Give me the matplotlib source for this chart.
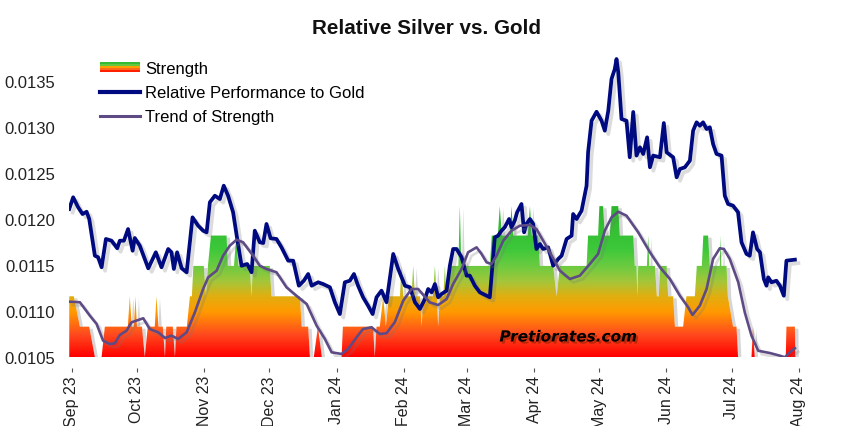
import numpy as np
import pandas as pd
import matplotlib
matplotlib.use("Agg")
import matplotlib.pyplot as plt
import matplotlib.dates as mdates
from matplotlib import patheffects as pe
from matplotlib.colors import LinearSegmentedColormap
from matplotlib.patches import Rectangle
from matplotlib.lines import Line2D
from matplotlib.legend_handler import HandlerBase

plt.rcParams['font.family'] = ['Liberation Sans', 'DejaVu Sans']

# ---------------- data ----------------
START = pd.Timestamp('2023-09-01')   # day offsets below are relative to this date

perf_days = [-1.2, 0.6, 2.9, 4.9, 6.8, 8.0, 10.6, 12.1, 13.7, 15.7, 18.3, 20.9, 22.1, 24.0, 25.9, 28.0, 29.0, 31.3,
             35.2, 38.7, 41.3, 44.4, 45.9, 47.0, 48.5, 50.6, 52.9, 55.6, 58.2, 60.5, 62.1, 63.6, 65.9, 68.2, 70.0,
             72.0, 74.3, 76.2, 78.2, 80.8, 82.8, 84.3, 86.6, 88.2, 89.7, 91.6, 94.3, 96.6, 99.7, 102.0, 104.6, 106.9,
             108.9, 110.5, 113.5, 115.8, 118.9, 121.2, 123.5, 125.8, 128.1, 130.0, 131.9, 134.2, 136.5, 138.6, 140.4,
             142.7, 145.0, 148.1, 150.4, 153.5, 155.8, 158.1, 160.4, 162.7, 164.2, 165.8, 167.3, 168.8, 170.4, 172.7,
             174.2, 175.7, 177.3, 179.6, 181.9, 183.4, 185.7, 188.0, 192.6, 194.9, 196.4, 198.0, 199.5, 201.5, 202.6,
             204.1, 205.2, 207.2, 208.4, 209.5, 211.1, 212.6, 214.1, 215.7, 217.2, 219.5, 221.8, 224.1, 225.7, 228.0,
             230.3, 231.0, 232.6, 234.9, 237.2, 237.9, 239.5, 241.8, 244.1, 245.6, 247.2, 248.7, 250.2, 251.0, 251.8,
             253.3, 255.6, 257.1, 258.7, 260.2, 261.8, 263.3, 265.1, 266.4, 267.9, 271.0, 272.8, 274.1, 277.1, 278.7,
             280.2, 282.5, 284.8, 286.3, 287.9, 289.4, 290.9, 292.5, 294.0, 295.5, 297.1, 299.4, 300.9, 302.4, 304.7,
             307.0, 308.6, 310.9, 312.4, 313.9, 315.8, 317.1, 318.9, 320.1, 320.9, 322.4, 324.7, 326.3, 328.1, 329.3,
             333.2]
perf_vals = [0.012109, 0.012236, 0.012127, 0.012054, 0.012079, 0.012000, 0.011601, 0.011584, 0.011475, 0.011783,
             0.011764, 0.011682, 0.011764, 0.011764, 0.011891, 0.011655, 0.011793, 0.011710, 0.011464, 0.011638,
             0.011475, 0.011674, 0.011638, 0.011457, 0.011638, 0.011464, 0.011421, 0.012018, 0.011927, 0.011873,
             0.011855, 0.012182, 0.012253, 0.012217, 0.012362, 0.012253, 0.012073, 0.011783, 0.011492, 0.011511,
             0.011421, 0.011873, 0.011747, 0.011739, 0.011946, 0.011790, 0.011783, 0.011692, 0.011547, 0.011547,
             0.011275, 0.011329, 0.011402, 0.011275, 0.011312, 0.011293, 0.011258, 0.011095, 0.010967, 0.011312,
             0.011329, 0.011402, 0.011275, 0.011149, 0.011058, 0.010967, 0.011149, 0.011221, 0.011095, 0.011620,
             0.011457, 0.011275, 0.011258, 0.011095, 0.011022, 0.011130, 0.011239, 0.011203, 0.011293, 0.011149,
             0.011185, 0.011221, 0.011492, 0.011674, 0.011674, 0.011584, 0.011384, 0.011384, 0.011275, 0.011203,
             0.011149, 0.011801, 0.011818, 0.011873, 0.011910, 0.012000, 0.011910, 0.011982, 0.012073, 0.012163,
             0.011855, 0.011946, 0.012000, 0.011946, 0.011674, 0.011728, 0.011674, 0.011692, 0.011492, 0.011565,
             0.011601, 0.011783, 0.011818, 0.012054, 0.012000, 0.012090, 0.012362, 0.012725, 0.013068, 0.013166,
             0.013068, 0.012960, 0.013177, 0.013522, 0.013630, 0.013739, 0.013595, 0.013087, 0.013068, 0.012671,
             0.013163, 0.012689, 0.012779, 0.012707, 0.012888, 0.012562, 0.012689, 0.012671, 0.013043, 0.012725,
             0.012671, 0.012453, 0.012543, 0.012562, 0.012634, 0.012960, 0.013051, 0.013014, 0.013051, 0.012978,
             0.012997, 0.012815, 0.012707, 0.012689, 0.012253, 0.012163, 0.012145, 0.012073, 0.011747, 0.011620,
             0.011601, 0.011855, 0.011674, 0.011638, 0.011348, 0.011275, 0.011366, 0.011312, 0.011329, 0.011275,
             0.011166, 0.011547, 0.011558]

trend_days = [-1.2, 3.7, 8.3, 11.4, 14.4, 17.5, 19.8, 22.1, 25.2, 27.5, 32.9, 35.9, 39.8, 42.9, 45.9, 49.0, 52.9,
              56.7, 60.5, 62.8, 66.7, 69.7, 72.8, 75.9, 78.9, 83.5, 86.6, 89.7, 94.3, 98.9, 103.5, 108.2, 112.8,
              116.6, 119.7, 124.3, 127.3, 131.2, 134.2, 138.1, 141.9, 145.0, 148.8, 152.7, 156.5, 159.6, 164.9,
              168.8, 172.7, 175.7, 179.6, 182.6, 186.5, 188.8, 191.1, 193.4, 195.7, 198.8, 202.6, 206.5, 211.1,
              214.1, 217.2, 221.1, 224.9, 229.5, 234.1, 238.7, 242.5, 245.6, 248.7, 251.8, 255.6, 261.0, 266.4,
              271.0, 275.6, 280.2, 284.0, 286.0, 289.4, 292.5, 295.5, 298.6, 300.5, 303.2, 307.1, 310.1, 313.2,
              316.3, 321.7, 326.3, 328.6, 330.9, 333.2]
trend_vals = [0.011101, 0.011095, 0.010949, 0.010859, 0.010677, 0.010641, 0.010649, 0.010739, 0.010786, 0.010877,
              0.010921, 0.010804, 0.010768, 0.010707, 0.010732, 0.010696, 0.010768, 0.010986, 0.011239, 0.011366,
              0.011438, 0.011601, 0.011710, 0.011775, 0.011747, 0.011601, 0.011492, 0.011457, 0.011421, 0.011258,
              0.011166, 0.011076, 0.010840, 0.010696, 0.010551, 0.010533, 0.010587, 0.010714, 0.010804, 0.010823,
              0.010750, 0.010758, 0.010877, 0.011112, 0.011239, 0.011239, 0.011094, 0.011065, 0.011130, 0.011293,
              0.011457, 0.011638, 0.011692, 0.011620, 0.011529, 0.011511, 0.011601, 0.011764, 0.011873, 0.011927,
              0.011935, 0.011891, 0.011764, 0.011601, 0.011438, 0.011348, 0.011384, 0.011511, 0.011620, 0.011873,
              0.012018, 0.012079, 0.012036, 0.011855, 0.011638, 0.011475, 0.011348, 0.011166, 0.011040, 0.010957,
              0.011058, 0.011239, 0.011565, 0.011682, 0.011674, 0.011565, 0.011312, 0.010986, 0.010732, 0.010568,
              0.010543, 0.010514, 0.010497, 0.010551, 0.010595]

strength_days = [-1.2, 0.9, 3.7, 8.0, 10.6, 13.7, 15.2, 25.8, 26.7, 27.6, 28.6, 29.3, 30.0, 32.3, 33.6, 35.0, 38.2,
                 39.0, 39.9, 41.9, 42.9, 43.5, 46.5, 47.5, 48.2, 53.0, 54.4, 55.3, 56.0, 60.8, 61.8, 62.7, 64.1,
                 71.3, 71.9, 74.7, 75.8, 76.7, 82.0, 82.8, 83.4, 91.2, 92.0, 105.1, 105.9, 108.9, 109.7, 111.5,
                 113.4, 115.2, 124.3, 124.9, 138.8, 139.6, 140.4, 141.9, 143.5, 144.7, 146.1, 151.2, 151.9, 152.7,
                 156.5, 157.3, 158.1, 160.4, 161.2, 161.9, 166.4, 167.3, 168.2, 168.8, 169.6, 171.2, 171.9, 172.6,
                 173.5, 178.1, 178.8, 179.5, 192.6, 193.5, 196.3, 197.2, 198.2, 201.8, 202.6, 203.4, 210.1, 211.1,
                 212.0, 214.9, 215.7, 221.8, 223.4, 224.9, 237.2, 237.9, 242.5, 243.1, 244.8, 245.6, 247.9, 248.7,
                 251.8, 252.5, 258.7, 259.4, 260.2, 260.6, 261.0, 265.0, 265.6, 266.1, 268.7, 269.6, 270.5, 271.0,
                 274.1, 274.8, 277.1, 277.9, 281.7, 283.2, 287.1, 288.0, 290.3, 291.0, 293.2, 294.0, 298.6, 298.9,
                 299.3, 301.7, 302.3, 304.7, 306.3, 307.0, 313.2, 313.9, 314.7, 329.0, 329.3, 333.2, 333.4]
strength_levels = [2, 2, 1, 1, 0, 0, 1, 1, 2, 1, 1, 2, 1, 1, 0, 1, 1,
                   2, 1, 1, 0, 1, 1, 0, 1, 1, 2, 2, 3, 3, 2, 3, 4,
                   4, 3, 3, 4, 3, 3, 2, 3, 3, 2, 2, 1, 1, 0, 0,
                   1, 0, 0, 1, 1, 0, 1, 1, 2, 1, 2, 2, 3, 2,
                   2, 3, 2, 2, 1, 2, 2, 3, 2, 1, 2, 2, 3, 2,
                   3, 3, 5, 3, 3, 4, 4, 5, 4, 4, 5, 4, 4, 5,
                   4, 4, 3, 3, 2, 3, 3, 4, 4, 5, 5, 4, 4, 5,
                   5, 4, 4, 3, 3, 2, 3, 3, 4, 3, 3, 2, 2, 3,
                   3, 2, 2, 1, 1, 2, 2, 3, 3, 4, 4, 3, 3, 4,
                   3, 3, 2, 1, 1, 0, 0, 1, 0, 0, 1, 1, 0]
strength_scale = [0.01050, 0.01083, 0.01116, 0.01149, 0.01182, 0.01214]

y_ticks = [0.0105, 0.0110, 0.0115, 0.0120, 0.0125, 0.0130, 0.0135]
title = "Relative Silver vs. Gold"
legend_labels = ["Strength", "Relative Performance to Gold", "Trend of Strength"]
watermark = "Pretiorates.com"

# ---------------- figure ----------------
def to_dates(days):
    return START + pd.to_timedelta(np.asarray(days, dtype=float), unit='D')

perf_x = to_dates(perf_days)
trend_x = to_dates(trend_days)
str_x = to_dates(strength_days)
str_y = np.array([strength_scale[k] for k in strength_levels])
base = strength_scale[0]

fig = plt.figure(figsize=(8.54, 4.27), dpi=100)
ax = fig.add_axes([0.0811, 0.1616, 0.8568, 0.711])

xmin = START + pd.Timedelta(days=-1.2)
xmax = START + pd.Timedelta(days=336)

# strength area: white polygon with shadow, then gradient image clipped to it
poly = ax.fill_between(str_x, base, str_y, facecolor='white', edgecolor='none', zorder=1,
                       path_effects=[pe.SimplePatchShadow(offset=(2.5, -1.5), shadow_rgbFace='#9a9a9a', alpha=0.4),
                                     pe.Normal()])
cmap = LinearSegmentedColormap.from_list('strength', [
    (0.00, '#ff0000'), (0.15, '#ff4a1e'), (0.30, '#ff9a00'), (0.40, '#e2ae10'),
    (0.50, '#a4c63a'), (0.60, '#6ccb40'), (0.72, '#3cc83a'), (1.00, '#2db52d')])
grad = np.linspace(0, 1, 256).reshape(-1, 1)
x0n, x1n = mdates.date2num(xmin), mdates.date2num(xmax)
im = ax.imshow(grad, cmap=cmap, aspect='auto', origin='lower',
               extent=[x0n, x1n, base, strength_scale[-1]], zorder=1.2, interpolation='bilinear')
im.set_clip_path(poly.get_paths()[0], transform=ax.transData)

shadow = [pe.SimpleLineShadow(offset=(2.5, -2.5), shadow_color='#777777', alpha=0.25), pe.Normal()]
ax.plot(perf_x, perf_vals, color='#000a80', lw=2.7, zorder=4, solid_joinstyle='round',
        path_effects=shadow)
ax.plot(trend_x, trend_vals, color='#5e4b86', lw=1.9, zorder=5, solid_joinstyle='round',
        path_effects=shadow)

ax.text(0.6816, 0.066, watermark, transform=ax.transAxes, ha='center', va='center',
        fontsize=11, fontweight='bold', fontstyle='italic', family='DejaVu Sans', color='black', zorder=3,
        path_effects=[pe.withSimplePatchShadow(offset=(1.5, -1.5), shadow_rgbFace='#7a2000', alpha=0.5)])

ax.set_xlim(xmin, xmax)
ax.set_ylim(0.0105, 0.0138)
ax.set_yticks(y_ticks)
ax.set_yticklabels([f"{v:.4f}" for v in y_ticks])
ax.xaxis.set_major_locator(mdates.MonthLocator())
ax.xaxis.set_major_formatter(mdates.DateFormatter('%b %y'))
for s in ['top', 'right', 'left']:
    ax.spines[s].set_visible(False)
ax.spines['bottom'].set_position(('outward', 8))
ax.spines['bottom'].set_visible(False)
ax.tick_params(axis='y', length=0, pad=10, labelsize=12, labelcolor='#222222')
ax.tick_params(axis='x', length=3, width=0.8, color='#555555', pad=2, labelsize=11.5,
               labelcolor='#222222', labelrotation=90)
for lab in ax.get_xticklabels():
    lab.set_va('top')

# legend
class GradHandler(HandlerBase):
    def create_artists(self, legend, orig_handle, xdescent, ydescent, width, height, fontsize, trans):
        cols = ['#33bb33', '#66c640', '#ffa000', '#ff6a1a', '#ff2000']
        n = len(cols)
        h = height * 0.85
        y0 = -ydescent + (height - h) / 2
        arts = []
        for i, c in enumerate(cols):
            arts.append(Rectangle((-xdescent, y0 + h * (n - 1 - i) / n), width, h / n + 0.3,
                                  facecolor=c, edgecolor='none', transform=trans))
        return arts

grad_handle = Rectangle((0, 0), 1, 1)
h_perf = Line2D([], [], color='#000a80', lw=3.0)
h_trend = Line2D([], [], color='#5e4b86', lw=2.2)
fig.legend([grad_handle, h_perf, h_trend], legend_labels,
           handler_map={Rectangle: GradHandler()},
           loc='upper left', bbox_to_anchor=(0.117, 0.854), frameon=False, fontsize=12,
           handlelength=2.4, handletextpad=0.3, labelspacing=0.54, borderpad=0, borderaxespad=0)

fig.text(0.5, 0.934, title, ha='center', va='center', fontsize=14.9, fontweight='bold', color='#111111')

fig.savefig('out.png', dpi=100)
